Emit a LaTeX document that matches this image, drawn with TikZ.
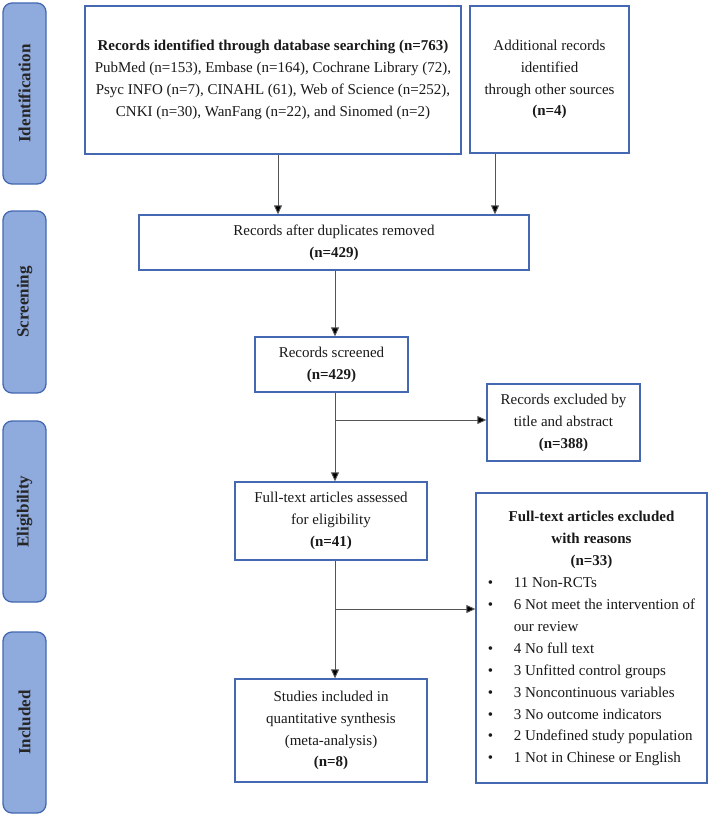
\documentclass[tikz,border=0pt]{standalone}
\usepackage{fontspec}
\setmainfont{Liberation Serif}
\usetikzlibrary{arrows.meta}
\definecolor{boxblue}{RGB}{68,104,178}
\definecolor{barfill}{RGB}{143,170,220}
\definecolor{barline}{RGB}{68,104,178}
\definecolor{linegray}{RGB}{85,85,85}
\tikzset{
  txt/.style={font=\fontsize{15}{21.9}\selectfont, text=black!90},
  flowbox/.style={txt, draw=boxblue, line width=1.3pt, fill=white, align=center, inner sep=0pt, rectangle},
  phasebar/.style={draw=barline, fill=barfill, line width=1.3pt, rounded corners=9pt, minimum width=43pt, inner sep=0pt},
  phasetext/.style={font=\fontsize{17}{20}\selectfont\bfseries, text=black!85, rotate=90},
  arr/.style={draw=linegray, line width=0.9pt, -{Triangle[length=9pt,width=8pt,fill=black]}}
}
\newcommand{\bul}{\makebox[26pt][l]{\textbullet}}
\begin{document}
\begin{tikzpicture}[x=1pt,y=-1pt]
\useasboundingbox (0,0) rectangle (709,816);
% phase bars
\node[phasebar, minimum height=181pt] (pid) at (24.5,93.5) {};
\node[phasetext] (pidt) at (pid.center) {Identification};
\node[phasebar, minimum height=182pt] (psc) at (24.5,302) {};
\node[phasetext] (psct) at (psc.center) {Screening};
\node[phasebar, minimum height=181pt] (pel) at (24.5,511.5) {};
\node[phasetext] (pelt) at (pel.center) {Eligibility};
\node[phasebar, minimum height=181pt] (pin) at (24.5,722.5) {};
\node[phasetext] (pint) at (pin.center) {Included};
% boxes
\node[flowbox, minimum width=376pt, minimum height=148pt] (db) at (273,80)
  {\textbf{Records identified through database searching (n=763)}\\
   PubMed (n=153), Embase (n=164), Cochrane Library (72),\\
   Psyc INFO (n=7), CINAHL (61), Web of Science (n=252),\\
   CNKI (n=30), WanFang (n=22), and Sinomed (n=2)};
\node[flowbox, minimum width=159pt, minimum height=147pt] (other) at (549.5,79.5)
  {Additional records\\identified\\through other sources\\\textbf{(n=4)}};
\node[flowbox, minimum width=390pt, minimum height=55pt] (dup) at (334,242.5)
  {Records after duplicates removed\\\textbf{(n=429)}};
\node[flowbox, minimum width=153pt, minimum height=55pt] (scr) at (331.5,364.5)
  {Records screened\\\textbf{(n=429)}};
\node[flowbox, minimum width=153pt, minimum height=77pt] (exc) at (563.5,422.5)
  {Records excluded by\\title and abstract\\\textbf{(n=388)}};
\node[flowbox, minimum width=192pt, minimum height=78pt] (full) at (331,521)
  {Full-text articles assessed\\for eligibility\\\textbf{(n=41)}};
\node[flowbox, minimum width=231pt, minimum height=290pt] (fexc) at (591.5,638)
  {\begin{tabular}{@{}l@{}}
   \multicolumn{1}{@{}c@{}}{\textbf{Full-text articles excluded}}\\
   \multicolumn{1}{@{}c@{}}{\textbf{with reasons}}\\
   \multicolumn{1}{@{}c@{}}{\textbf{(n=33)}}\\
   \bul 11 Non-RCTs\\
   \bul 6 Not meet the intervention of\\
   \hspace*{26pt}our review\\
   \bul 4 No full text\\
   \bul 3 Unfitted control groups\\
   \bul 3 Noncontinuous variables\\
   \bul 3 No outcome indicators\\
   \bul 2 Undefined study population\\
   \bul 1 Not in Chinese or English
   \end{tabular}};
\node[flowbox, minimum width=192pt, minimum height=103pt] (incl) at (331,730.5)
  {Studies included in\\quantitative synthesis\\(meta-analysis)\\\textbf{(n=8)}};
% connectors
\coordinate (spine) at (335,0);
\coordinate (br1) at (335,420);
\coordinate (br2) at (335,609);
\draw[arr] ([xshift=5pt]db.south) -- ([xshift=5pt]db.south |- dup.north);
\draw[arr] ([xshift=-54.5pt]other.south) -- ([xshift=-54.5pt]other.south |- dup.north);
\draw[arr] (spine |- dup.south) -- (spine |- scr.north);
\draw[arr] (spine |- scr.south) -- (spine |- full.north);
\draw[arr] (br1) -- (br1 -| exc.west);
\draw[arr] (spine |- full.south) -- (spine |- incl.north);
\draw[arr] (br2) -- (br2 -| fexc.west);
\end{tikzpicture}
\end{document}
